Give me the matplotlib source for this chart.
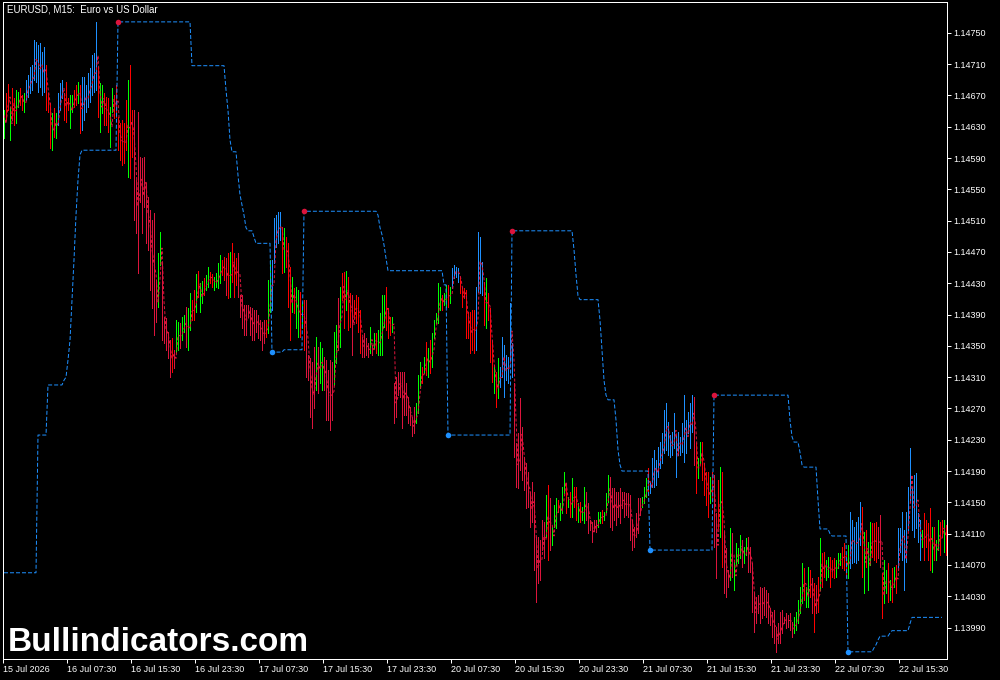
import numpy as np
import matplotlib
matplotlib.use("Agg")
import matplotlib.pyplot as plt

# prices are kept in points (0.00001) above BASE
BASE = 1.13900
POINT = 0.00001

# EURUSD M15 bars, one value per bar
bar_high = [
    751, 773, 785, 755, 780, 767, 777, 774, 780, 771,
    773, 790, 796, 806, 809, 841, 838, 834, 837, 826,
    832, 809, 773, 760, 748, 754, 748, 773, 786, 790,
    773, 787, 767, 771, 771, 777, 783, 787, 783, 794,
    794, 783, 799, 805, 822, 824, 864, 806, 786, 783,
    773, 768, 767, 755, 780, 771, 783, 742, 735, 739,
    735, 764, 790, 809, 751, 751, 662, 749, 691, 690,
    691, 658, 640, 624, 611, 620, 532, 569, 596, 556,
    487, 486, 468, 457, 460, 445, 483, 480, 479, 487,
    489, 500, 498, 518, 509, 521, 542, 546, 530, 533,
    537, 541, 551, 544, 542, 538, 543, 556, 566, 560,
    564, 562, 569, 570, 581, 569, 562, 569, 515, 515,
    502, 502, 502, 500, 498, 496, 496, 489, 483, 480,
    483, 483, 534, 560, 560, 613, 617, 621, 621, 602,
    601, 589, 581, 551, 538, 524, 525, 521, 519, 506,
    509, 509, 438, 434, 429, 449, 461, 449, 455, 447,
    436, 432, 419, 432, 429, 468, 477, 511, 525, 543,
    544, 546, 538, 518, 515, 509, 515, 512, 496, 461,
    466, 460, 454, 474, 451, 466, 466, 470, 492, 515,
    515, 525, 498, 487, 487, 403, 410, 417, 417, 417,
    417, 403, 385, 372, 359, 372, 377, 413, 429, 423,
    436, 455, 447, 457, 466, 483, 492, 530, 525, 515,
    518, 528, 528, 525, 549, 553, 551, 549, 538, 524,
    524, 521, 493, 493, 496, 496, 525, 596, 589, 557,
    532, 537, 518, 498, 455, 426, 417, 434, 423, 461,
    451, 438, 436, 505, 454, 403, 326, 339, 383, 346,
    307, 300, 289, 263, 276, 263, 206, 206, 202, 227,
    225, 259, 272, 256, 219, 247, 256, 253, 249, 270,
    289, 275, 257, 263, 281, 270, 270, 249, 250, 244,
    270, 263, 249, 227, 225, 227, 227, 238, 238, 240,
    238, 262, 285, 282, 268, 268, 263, 263, 268, 263,
    263, 262, 262, 259, 227, 219, 236, 256, 256, 257,
    270, 281, 294, 276, 307, 317, 304, 321, 327, 339,
    368, 377, 353, 336, 340, 364, 336, 340, 334, 351,
    387, 355, 365, 377, 387, 385, 326, 307, 327, 327,
    300, 289, 289, 282, 289, 285, 236, 279, 295, 289,
    212, 192, 164, 217, 211, 174, 198, 192, 208, 202,
    193, 204, 206, 193, 173, 134, 129, 132, 142, 141,
    142, 138, 134, 115, 110, 112, 91, 96, 110, 112,
    103, 109, 106, 109, 97, 103, 110, 125, 142, 173,
    166, 142, 167, 164, 153, 147, 144, 155, 204, 185,
    187, 176, 180, 180, 176, 179, 176, 185, 185, 193,
    198, 183, 195, 238, 227, 219, 225, 231, 250, 244,
    212, 215, 199, 225, 224, 224, 225, 219, 234, 160,
    176, 164, 172, 151, 166, 167, 170, 217, 217, 238,
    215, 238, 270, 319, 270, 285, 288, 236, 227, 215,
    236, 227, 224, 243, 219, 219, 202, 227, 225, 227,
    227, 221,
]

bar_low = [
    716, 739, 751, 713, 739, 732, 735, 755, 758, 751,
    749, 764, 768, 773, 777, 790, 787, 774, 781, 771,
    774, 751, 749, 703, 700, 717, 716, 732, 751, 767,
    739, 736, 751, 728, 749, 755, 758, 760, 722, 726,
    739, 749, 755, 762, 771, 774, 777, 742, 723, 748,
    732, 732, 723, 704, 749, 741, 742, 700, 688, 681,
    684, 700, 666, 665, 691, 611, 594, 543, 634, 594,
    627, 581, 573, 521, 498, 464, 480, 500, 553, 457,
    454, 445, 434, 410, 417, 422, 442, 445, 447, 457,
    468, 449, 445, 470, 483, 483, 493, 512, 493, 505,
    515, 521, 525, 530, 525, 521, 525, 524, 530, 541,
    534, 515, 511, 512, 532, 512, 528, 512, 487, 473,
    464, 464, 487, 464, 457, 457, 468, 460, 457, 445,
    454, 461, 466, 493, 496, 556, 576, 581, 585, 543,
    544, 551, 500, 457, 493, 492, 473, 461, 461, 473,
    445, 410, 406, 359, 345, 371, 394, 390, 403, 394,
    394, 355, 355, 342, 355, 400, 428, 445, 449, 509,
    473, 496, 470, 474, 438, 486, 479, 468, 441, 436,
    436, 438, 436, 441, 438, 447, 441, 438, 438, 438,
    474, 470, 460, 464, 468, 351, 359, 387, 384, 345,
    362, 362, 351, 349, 335, 339, 351, 364, 396, 403,
    415, 413, 410, 415, 423, 460, 479, 479, 496, 496,
    502, 500, 500, 505, 524, 537, 538, 532, 518, 500,
    511, 460, 460, 441, 445, 441, 445, 519, 518, 515,
    477, 473, 483, 429, 404, 390, 372, 383, 397, 410,
    385, 406, 403, 432, 410, 308, 270, 268, 291, 279,
    266, 243, 244, 219, 225, 164, 123, 147, 151, 189,
    179, 206, 176, 189, 195, 219, 217, 238, 227, 236,
    262, 236, 244, 231, 231, 244, 227, 225, 225, 227,
    224, 227, 211, 215, 199, 215, 212, 219, 224, 224,
    227, 238, 250, 219, 215, 227, 221, 231, 224, 243,
    231, 234, 231, 202, 189, 193, 206, 211, 234, 244,
    249, 257, 259, 262, 270, 270, 272, 282, 294, 300,
    313, 317, 311, 308, 311, 319, 282, 311, 311, 314,
    302, 313, 339, 319, 340, 298, 262, 281, 300, 279,
    259, 247, 231, 249, 253, 193, 153, 217, 206, 167,
    134, 129, 142, 151, 155, 138, 170, 172, 179, 167,
    172, 183, 161, 161, 110, 84, 96, 109, 96, 102,
    106, 103, 96, 93, 78, 70, 59, 70, 70, 83,
    96, 89, 91, 87, 78, 83, 87, 96, 109, 121,
    125, 116, 116, 129, 109, 84, 109, 110, 138, 142,
    155, 151, 155, 142, 155, 153, 155, 166, 170, 166,
    164, 155, 153, 166, 172, 174, 172, 176, 195, 155,
    134, 167, 138, 170, 180, 176, 174, 179, 167, 102,
    121, 134, 123, 125, 123, 142, 134, 164, 187, 176,
    138, 174, 215, 250, 215, 206, 217, 199, 176, 193,
    176, 193, 176, 164, 161, 176, 176, 189, 183, 206,
    187, 183,
]

# b = strong up, g = up, r = down, c = strong down
bar_kind = (
    "grrgrrggrr" "gbbbbbbbbb" "brrrgrgbbb" "rrrggrrgrb" "bbbbbbbrgg"
    "rrrggrrrrr" "rrgrrccccc" "cccccccggc" "ccccrcggcg" "gcggrrgrgg"
    "rggrrggggr" "rcrgrrrccc" "cccccccccc" "crggbbbbbr" "grrrgrggrg"
    "rcccccgcgg" "cccccggcgr" "rgrrcrrrrc" "cccgcgrggg" "grrrgccccc"
    "ccccccgggr" "grgrgggggr" "ggrgbbbbrr" "rrrrrrbbbb" "rgrrrgrgbb"
    "bbbbbccccc" "cccccccccc" "cgrcgggrgg" "grgrgrrgrg" "gccccccggr"
    "gggccccccc" "cccccccccg" "ggrbbbbbbb" "bbbbbbbbbb" "bbbbbcrggr"
    "rrrgrccrgr" "cccgcggggc" "ggcccccccc" "cccccccccc" "cccccggggg"
    "rggrcrcrgr" "rggrrrgggr" "rrgbbbbbbr" "grggrrrccr" "ggrgrgrbbb"
    "bbbbbbbbbg" "rrrrgrggrr" "gr"
)

# dotted signal line, points above BASE
signal = [
    745,
    734, 756, 768, 734, 760, 750, 756, 765, 769, 761,
    761, 777, 782, 790, 793, 816, 813, 804, 809, 799,
    803, 780, 761, 732, 724, 736, 732, 753, 769, 779,
    756, 762, 759, 750, 760, 766, 771, 774, 753, 760,
    767, 766, 777, 784, 797, 799, 821, 774, 755, 766,
    753, 750, 745, 730, 765, 756, 763, 721, 712, 710,
    710, 732, 728, 737, 721, 681, 628, 646, 663, 642,
    659, 620, 607, 573, 555, 542, 506, 535, 575, 507,
    471, 466, 451, 434, 439, 434, 463, 463, 463, 472,
    479, 475, 472, 494, 496, 502, 518, 529, 512, 519,
    526, 531, 538, 537, 534, 530, 534, 540, 548, 551,
    549, 539, 540, 541, 557, 541, 545, 541, 501, 494,
    483, 483, 495, 482, 478, 477, 482, 475, 470, 463,
    469, 472, 500, 527, 528, 585, 597, 601, 603, 573,
    573, 570, 541, 504, 516, 508, 499, 491, 490, 490,
    477, 460, 422, 397, 387, 410, 428, 420, 429, 421,
    415, 394, 387, 387, 392, 434, 453, 478, 487, 526,
    509, 521, 504, 496, 477, 498, 497, 490, 469, 449,
    451, 449, 445, 458, 445, 457, 454, 454, 465, 477,
    495, 498, 479, 476, 478, 377, 385, 402, 401, 381,
    390, 383, 368, 361, 347, 356, 364, 389, 413, 413,
    426, 434, 429, 436, 445, 472, 486, 505, 511, 506,
    510, 514, 514, 515, 537, 545, 545, 541, 528, 512,
    518, 491, 477, 467, 471, 469, 485, 558, 554, 536,
    505, 505, 501, 464, 430, 408, 395, 409, 410, 436,
    418, 422, 420, 469, 432, 356, 298, 304, 337, 313,
    287, 272, 267, 241, 251, 214, 165, 177, 177, 208,
    202, 233, 224, 223, 207, 233, 237, 246, 238, 253,
    276, 256, 251, 247, 256, 257, 249, 237, 238, 236,
    247, 245, 230, 221, 212, 221, 220, 229, 231, 232,
    233, 250, 268, 251, 242, 248, 242, 247, 246, 253,
    247, 248, 247, 231, 208, 206, 221, 234, 245, 251,
    260, 269, 277, 269, 289, 294, 288, 302, 311, 320,
    341, 347, 332, 322, 326, 342, 309, 326, 323, 333,
    345, 334, 352, 348, 364, 342, 294, 294, 314, 303,
    280, 268, 260, 266, 271, 239, 195, 248, 251, 228,
    173, 161, 153, 184, 183, 156, 184, 182, 194, 185,
    183, 194, 184, 177, 142, 109, 113, 121, 119, 122,
    124, 121, 115, 104, 94, 91, 75, 83, 90, 98,
    100, 99, 99, 98, 88, 93, 99, 111, 126, 147,
    146, 129, 142, 147, 131, 116, 127, 133, 171, 164,
    171, 164, 168, 161, 166, 166, 166, 176, 178, 180,
    181, 169, 174, 202, 200, 197, 199, 204, 223, 200,
    173, 191, 169, 198, 202, 200, 200, 199, 201, 131,
    149, 149, 148, 138, 145, 155, 152, 191, 202, 207,
    177, 206, 243, 285, 243, 246, 253, 218, 202, 204,
    206, 210, 200, 204, 190, 198, 189, 208, 204, 217,
    207,
]

# stepped stop line: bar where each step starts and its level (points)
stop_start = [0, 17, 22, 30, 31, 32, 33, 34, 35, 36,
              37, 38, 39, 57, 94, 111, 112, 113, 114, 117,
              118, 119, 120, 121, 122, 125, 126, 134, 140, 150,
              187, 188, 189, 190, 191, 192, 220, 222, 254, 285,
              286, 287, 288, 298, 299, 300, 301, 302, 306, 307,
              308, 309, 323, 355, 393, 394, 395, 398, 399, 400,
              407, 408, 413, 414, 422, 435, 436, 437, 438, 443,
              444, 453, 454, 470]
stop_level = [160, 336, 400, 406, 410, 432, 457, 509, 560, 617,
              662, 694, 700, 864, 808, 777, 751, 713, 698, 668,
              643, 630, 617, 601, 597, 589, 581, 442, 445, 622,
              617, 601, 592, 579, 562, 546, 528, 336, 597, 573,
              541, 514, 509, 483, 445, 406, 387, 381, 355, 317,
              298, 290, 189, 387, 355, 334, 327, 314, 298, 295,
              253, 216, 210, 207, 59, 64, 68, 74, 79, 83,
              86, 95, 103, None]

# bars where the trend flips
flip_down = [57, 150, 254, 355]
flip_up = [134, 222, 323, 422]

time_labels = ["15 Jul 2026", "16 Jul 07:30", "16 Jul 15:30", "16 Jul 23:30",
               "17 Jul 07:30", "17 Jul 15:30", "17 Jul 23:30", "20 Jul 07:30",
               "20 Jul 15:30", "20 Jul 23:30", "21 Jul 07:30", "21 Jul 15:30",
               "21 Jul 23:30", "22 Jul 07:30", "22 Jul 15:30"]
price_ticks = [1.13990, 1.14030, 1.14070, 1.14110, 1.14150, 1.14190, 1.14230,
               1.14270, 1.14310, 1.14350, 1.14390, 1.14430, 1.14470, 1.14510,
               1.14550, 1.14590, 1.14630, 1.14670, 1.14710, 1.14750]

kind_colors = {"b": "#1E90FF", "g": "#00FF00", "r": "#FF0000", "c": "#DC143C"}
PX = 0.72  # one pixel in points at 100 dpi


def draw_chart():
    n = len(bar_high)
    for name, arr in (("bar_low", bar_low), ("bar_kind", bar_kind), ("signal", signal)):
        if len(arr) != n:
            raise ValueError(f"{name} has {len(arr)} values, expected {n}")

    x = np.arange(n)
    hi = BASE + np.array(bar_high) * POINT
    lo = BASE + np.array(bar_low) * POINT
    sig = BASE + np.array(signal) * POINT

    # fill the stop line from its steps
    stop = np.full(n, np.nan)
    for k, start in enumerate(stop_start):
        end = stop_start[k + 1] if k + 1 < len(stop_start) else n
        if stop_level[k] is not None:
            stop[start:end] = BASE + stop_level[k] * POINT

    fig = plt.figure(figsize=(10, 6.8), dpi=100, facecolor="black")
    ax = fig.add_axes([0.003, 21 / 680, 0.944, 657 / 680], facecolor="black")

    ax.vlines(x, lo, hi, colors=[kind_colors[k] for k in bar_kind],
              linewidth=PX, antialiased=False)
    ax.plot(x, sig, color="#DC143C", linewidth=PX, dashes=(3, 2))
    ax.plot(x, stop, color="#1E90FF", linewidth=PX, dashes=(4, 2))
    ax.plot(flip_down, stop[flip_down], "o", color="#DC143C", markersize=4,
            markeredgewidth=0)
    ax.plot(flip_up, stop[flip_up], "o", color="#1E90FF", markersize=4,
            markeredgewidth=0)

    ax.set_xlim(-0.5, n - 0.5)
    ax.set_ylim(1.139498, 1.147894)

    # time axis, one label every 32 bars (8 hours)
    ax.set_xticks(np.arange(len(time_labels)) * 32 - 0.5)
    ax.set_xticklabels(time_labels)
    for lab in ax.get_xticklabels():
        lab.set_horizontalalignment("left")

    ax.yaxis.tick_right()
    ax.set_yticks(price_ticks)
    ax.set_yticklabels([f"{p:.5f}" for p in price_ticks])

    ax.tick_params(colors="white", length=3, width=PX, direction="out",
                   labelsize=6.5, pad=1.5)
    for lab in ax.get_xticklabels() + ax.get_yticklabels():
        lab.set_family("Liberation Sans")
    for side in ax.spines.values():
        side.set_color("white")
        side.set_linewidth(PX)

    fig.text(0.007, 1 - 10 / 680, "EURUSD, M15:  Euro vs US Dollar", color="white",
             fontsize=7, family="Liberation Sans", ha="left", va="center")
    fig.text(0.008, 1 - 651 / 680, "Bullindicators.com", color="white",
             fontsize=24, fontweight="bold", family="Liberation Sans",
             ha="left", va="baseline")

    fig.savefig("out.png", dpi=100, facecolor="black")


if __name__ == '__main__':
    draw_chart()
